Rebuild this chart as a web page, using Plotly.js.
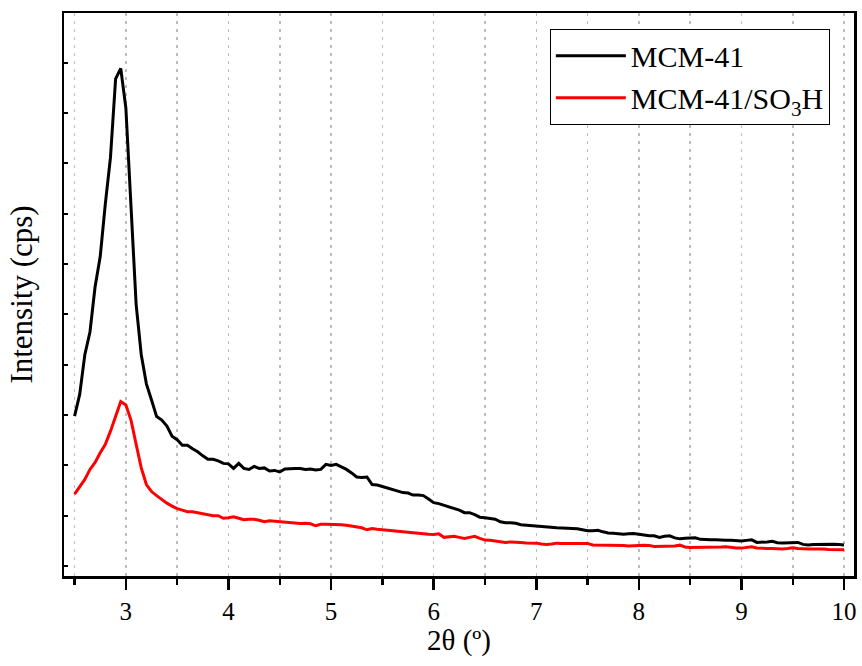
<!DOCTYPE html>
<html>
<head>
<meta charset="utf-8">
<script src="https://cdn.plot.ly/plotly-3.0.1.min.js"></script>
<style>html,body{margin:0;padding:0;background:#fff;}#chart{width:862px;height:666px;}</style>
</head>
<body>
<div id="chart"></div>
<script>
const twoTheta = [
 2.50,2.55,2.60,2.65,2.70,2.75,2.80,2.85,2.90,2.95,
 3.00,3.05,3.10,3.15,3.20,3.25,3.30,3.35,3.40,3.45,
 3.50,3.55,3.60,3.65,3.70,3.75,3.80,3.85,3.90,3.95,
 4.00,4.05,4.10,4.15,4.20,4.25,4.30,4.35,4.40,4.45,
 4.50,4.55,4.60,4.65,4.70,4.75,4.80,4.85,4.90,4.95,
 5.00,5.05,5.10,5.15,5.20,5.25,5.30,5.35,5.40,5.45,
 5.50,5.55,5.60,5.65,5.70,5.75,5.80,5.85,5.90,5.95,
 6.00,6.05,6.10,6.15,6.20,6.25,6.30,6.35,6.40,6.45,
 6.50,6.55,6.60,6.65,6.70,6.75,6.80,6.85,6.90,6.95,
 7.00,7.05,7.10,7.15,7.20,7.25,7.30,7.35,7.40,7.45,
 7.50,7.55,7.60,7.65,7.70,7.75,7.80,7.85,7.90,7.95,
 8.00,8.05,8.10,8.15,8.20,8.25,8.30,8.35,8.40,8.45,
 8.50,8.55,8.60,8.65,8.70,8.75,8.80,8.85,8.90,8.95,
 9.00,9.05,9.10,9.15,9.20,9.25,9.30,9.35,9.40,9.45,
 9.50,9.55,9.60,9.65,9.70,9.75,9.80,9.85,9.90,9.95,
 10.00
];

const mcm41 = [
 2.98,3.41,4.20,4.65,5.55,6.15,7.20,8.12,9.68,9.89,
 9.10,7.00,5.20,4.20,3.62,3.30,2.97,2.90,2.78,2.58,
 2.51,2.40,2.40,2.33,2.27,2.19,2.12,2.12,2.09,2.04,
 2.03,1.94,2.04,1.94,1.92,1.98,1.94,1.95,1.89,1.90,
 1.87,1.93,1.94,1.94,1.94,1.92,1.93,1.91,1.92,2.02,
 2.00,2.02,1.97,1.92,1.85,1.77,1.76,1.77,1.62,1.61,
 1.58,1.55,1.52,1.50,1.46,1.45,1.41,1.41,1.40,1.33,
 1.26,1.24,1.21,1.17,1.14,1.11,1.06,1.06,1.02,0.97,
 0.96,0.94,0.93,0.88,0.86,0.86,0.85,0.82,0.81,0.80,
 0.80,0.78,0.77,0.765,0.76,0.755,0.75,0.745,0.74,0.72,
 0.70,0.70,0.71,0.68,0.655,0.65,0.64,0.63,0.64,0.645,
 0.63,0.61,0.60,0.60,0.57,0.59,0.60,0.56,0.54,0.55,
 0.55,0.56,0.53,0.52,0.52,0.52,0.51,0.51,0.51,0.50,
 0.50,0.51,0.52,0.47,0.47,0.48,0.49,0.465,0.46,0.46,
 0.47,0.47,0.43,0.42,0.43,0.435,0.435,0.44,0.435,0.43,
 0.42
];

const mcm41SO3H = [
 1.43,1.57,1.72,1.92,2.06,2.25,2.42,2.68,2.97,3.27,
 3.20,2.90,2.42,1.95,1.62,1.48,1.40,1.32,1.25,1.19,
 1.14,1.11,1.08,1.08,1.06,1.04,1.01,1.00,1.00,0.95,
 0.96,0.98,0.95,0.92,0.93,0.93,0.91,0.88,0.90,0.89,
 0.87,0.86,0.85,0.85,0.845,0.85,0.84,0.80,0.83,0.83,
 0.83,0.83,0.82,0.81,0.79,0.77,0.76,0.72,0.745,0.73,
 0.72,0.71,0.69,0.68,0.67,0.665,0.65,0.64,0.63,0.63,
 0.627,0.64,0.57,0.58,0.59,0.57,0.55,0.57,0.59,0.55,
 0.515,0.51,0.50,0.49,0.47,0.48,0.48,0.47,0.46,0.46,
 0.455,0.44,0.43,0.44,0.455,0.45,0.45,0.45,0.45,0.455,
 0.45,0.42,0.42,0.42,0.425,0.42,0.42,0.41,0.40,0.40,
 0.41,0.415,0.41,0.39,0.39,0.39,0.39,0.40,0.415,0.38,
 0.37,0.37,0.37,0.37,0.37,0.37,0.38,0.385,0.37,0.36,
 0.356,0.37,0.383,0.36,0.35,0.35,0.35,0.345,0.34,0.35,
 0.363,0.35,0.34,0.337,0.337,0.34,0.337,0.33,0.33,0.325,
 0.323
];

const seriesNames = ['MCM-41', 'MCM-41/SO<sub>3</sub>H'];
const xTickVals = [3,4,5,6,7,8,9,10];
const xTickText = ['3','4','5','6','7','8','9','10'];

const FONT = 'Liberation Serif';

const traces = [
  {x: twoTheta, y: mcm41, name: seriesNames[0], type: 'scatter', mode: 'lines',
   line: {color: '#000000', width: 3}},
  {x: twoTheta, y: mcm41SO3H, name: seriesNames[1], type: 'scatter', mode: 'lines',
   line: {color: '#ff0000', width: 3}}
];

const layout = {
  width: 862, height: 666,
  margin: {l: 64, r: 8, t: 13, b: 90},
  paper_bgcolor: '#ffffff', plot_bgcolor: '#ffffff',
  font: {family: FONT, color: '#000000', size: 25},
  showlegend: true,
  legend: {
    x: 0.615, y: 0.972, xanchor: 'left', yanchor: 'top',
    bordercolor: '#000000', borderwidth: 1, bgcolor: '#ffffff',
    font: {family: FONT, size: 30, color: '#000000'},
    itemwidth: 70, tracegroupgap: 0
  },
  xaxis: {
    range: [2.397, 10.097],
    tickvals: xTickVals, ticktext: xTickText,
    ticks: 'outside', ticklen: 11, tickwidth: 2.5, tickcolor: '#000',
    showline: true, linecolor: '#000', linewidth: 2.5, mirror: true,
    showgrid: true, gridcolor: '#bdbdbd', griddash: '3px,5px', gridwidth: 1.5,
    minor: {dtick: 0.5, tick0: 2.5, ticks: 'outside', ticklen: 6, tickwidth: 2.5, tickcolor: '#000',
            showgrid: true, gridcolor: '#bdbdbd', griddash: '3px,5px', gridwidth: 1.5},
    zeroline: false,
    tickfont: {family: FONT, size: 25, color: '#000'},
    title: {text: '2θ (º)', font: {family: FONT, size: 29, color: '#000'}, standoff: 6}
  },
  yaxis: {
    range: [-0.198, 10.99],
    dtick: 1, tick0: 0,
    ticks: 'inside', ticklen: 4, tickwidth: 2, tickcolor: '#000',
    showticklabels: false,
    showline: true, linecolor: '#000', linewidth: 2.5, mirror: true,
    showgrid: false, zeroline: false,
    title: {text: 'Intensity (cps)', font: {family: FONT, size: 31, color: '#000'}, standoff: 20}
  },
  yaxis2: {
    overlaying: 'y', side: 'right', anchor: 'x',
    range: [-0.198, 10.99], dtick: 1, tick0: 0,
    ticks: 'outside', ticklen: 4, tickwidth: 2, tickcolor: '#000',
    showticklabels: false, showline: false, showgrid: false, zeroline: false
  }
};

Plotly.newPlot('chart', traces, layout, {displayModeBar: false, staticPlot: true});
</script>
</body>
</html>
